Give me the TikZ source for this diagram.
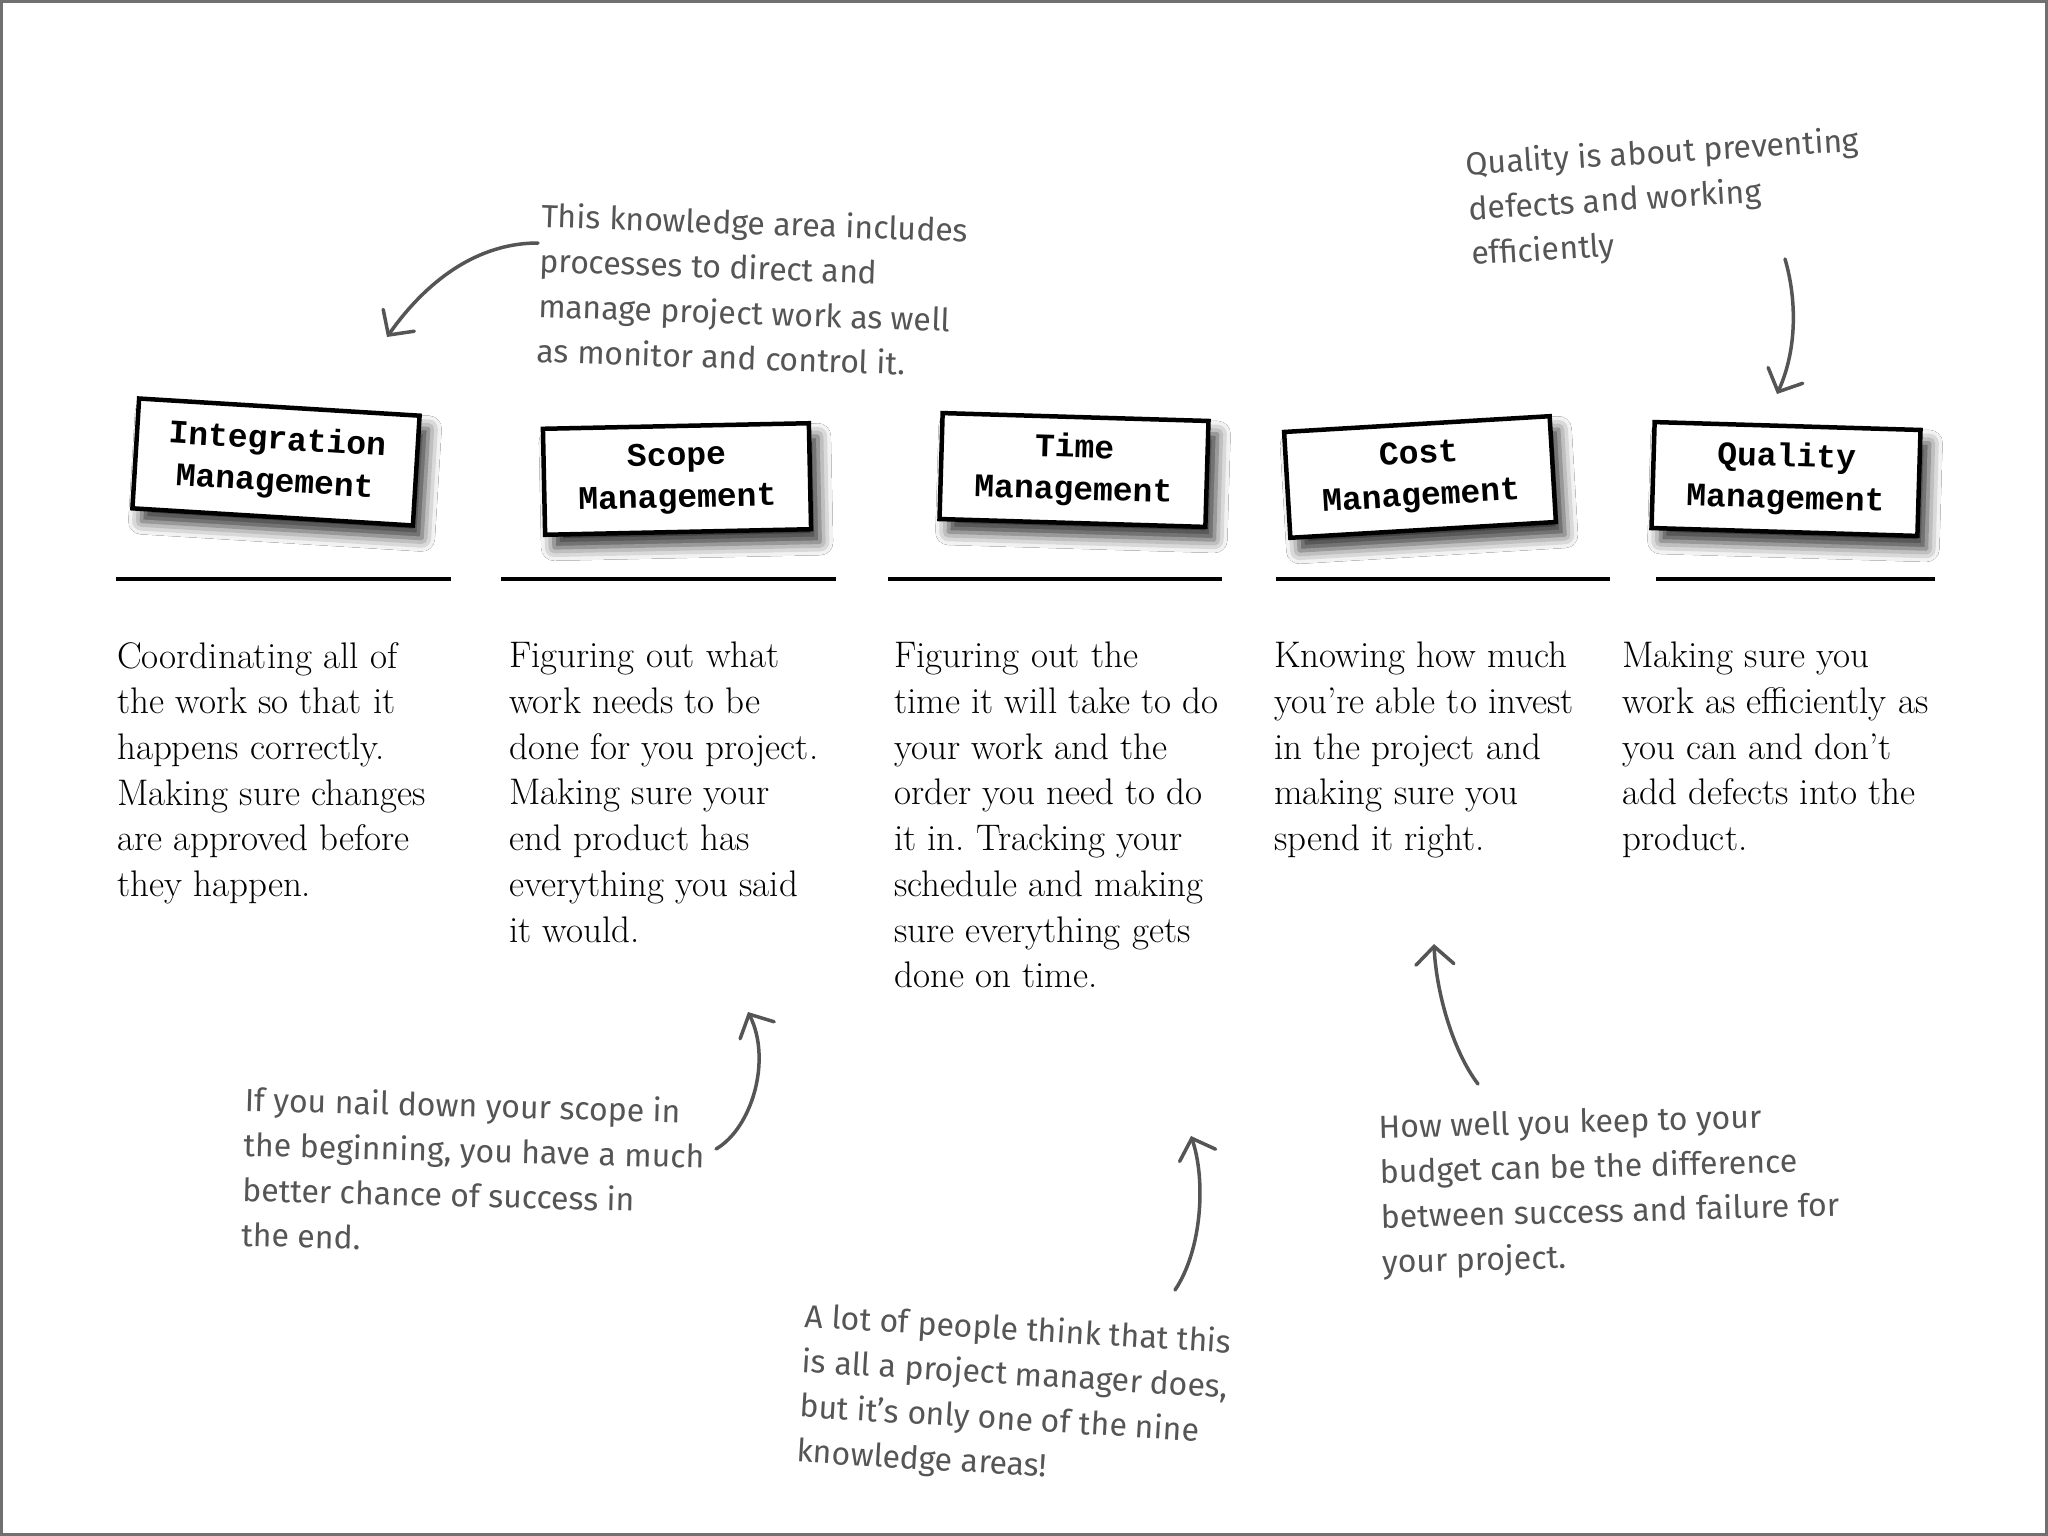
\documentclass[tikz,border=0pt]{standalone}
\usepackage{fontspec}
\newfontfamily\boxfont{Liberation Mono}
\newfontfamily\handfont{Fira Sans}
\usetikzlibrary{arrows.meta,shadows.blur}
\definecolor{handgray}{HTML}{555555}
\definecolor{framegray}{HTML}{707070}
\frenchspacing
\begin{document}
\begin{tikzpicture}[x=1pt,y=-1pt,
  kabox/.style={draw=black, line width=4.5pt, fill=white, minimum width=266pt, minimum height=106pt, inner sep=4pt, align=center,
    font=\boxfont\bfseries\fontsize{33}{42}\selectfont,
    blur shadow={shadow xshift=9pt, shadow yshift=-13pt, shadow blur radius=13pt, shadow opacity=80}},
  desc/.style={anchor=north west, inner sep=0pt, align=left, font=\fontsize{37}{45.7}\selectfont},
  note/.style={anchor=north west, inner sep=0pt, align=left, text=handgray, font=\handfont\fontsize{32}{45}\selectfont},
  sepline/.style={line width=4pt},
  pointer/.style={draw=handgray, line width=3.5pt, line cap=round, -{Straight Barb[length=18pt,width=38pt,line cap=round]}}]
\useasboundingbox (0,0) rectangle (2048,1536);
\draw[framegray, line width=3pt, fill=white] (1.5,1.5) rectangle (2046.5,1534.5);

% knowledge area boxes
\node[kabox, minimum width=281pt, minimum height=110pt, rotate=-3.5] (integ) at (276,462) {Integration\\Management};
\node[kabox, rotate=1.2] (scope) at (677,479) {Scope\\Management};
\node[kabox, rotate=-1.7] (time) at (1074,470) {Time\\Management};
\node[kabox, rotate=3.4] (cost) at (1420,477) {Cost\\Management};
\node[kabox, rotate=-1.7] (quality) at (1786,479) {Quality\\Management};

% separator lines
\draw[sepline] (116,579) -- (451,579);
\draw[sepline] (501,579) -- (836,579);
\draw[sepline] (888,579) -- (1222,579);
\draw[sepline] (1276,579) -- (1610,579);
\draw[sepline] (1656,579) -- (1935,579);

% descriptions
\node[desc] (d1) at (117,642) {Coordinating all of\\the work so that it\\happens correctly.\\Making sure changes\\are approved before\\they happen.};
\node[desc] (d2) at (509,642) {Figuring out what\\work needs to be\\done for you project.\\Making sure your\\end product has\\everything you said\\it would.};
\node[desc] (d3) at (894,642) {Figuring out the\\time it will take to do\\your work and the\\order you need to do\\it in. Tracking your\\schedule and making\\sure everything gets\\done on time.};
\node[desc] (d4) at (1274,642) {Knowing how much\\you’re able to invest\\in the project and\\making sure you\\spend it right.};
\node[desc] (d5) at (1622,642) {Making sure you\\work as efficiently as\\you can and don’t\\add defects into the\\product.};

% handwritten notes
\node[note, rotate=-2] (n1) at (542,202) {This knowledge area includes\\processes to direct and\\manage project work as well\\as monitor and control it.};
\node[note, rotate=3.5] (n2) at (1465,150) {Quality is about preventing\\defects and working\\efficiently};
\node[note, rotate=-1.5] (n3) at (245,1086) {If you nail down your scope in\\the beginning, you have a much\\better chance of success in\\the end.};
\node[note, rotate=-3.5] (n4) at (806,1302) {A lot of people think that this\\is all a project manager does,\\but it’s only one of the nine\\knowledge areas!};
\node[note, rotate=1.5] (n5) at (1378,1114) {How well you keep to your\\budget can be the difference\\between success and failure for\\your project.};

% arrow ends
\coordinate (a1s) at (538,243);  \coordinate (a1e) at (387,337);
\coordinate (a2s) at (1785,259); \coordinate (a2e) at (1777,394);
\coordinate (a3s) at (716,1149); \coordinate (a3e) at (748,1012);
\coordinate (a4s) at (1175,1290);\coordinate (a4e) at (1191,1136);
\coordinate (a5s) at (1478,1084);\coordinate (a5e) at (1434,944);

\draw[pointer] (a1s) .. controls (470,243) and (420,290) .. (a1e);
\draw[pointer] (a2s) .. controls (1797,300) and (1797,350) .. (a2e);
\draw[pointer] (a3s) .. controls (752,1128) and (772,1060) .. (a3e);
\draw[pointer] (a4s) .. controls (1202,1250) and (1206,1180) .. (a4e);
\draw[pointer] (a5s) .. controls (1452,1050) and (1436,990) .. (a5e);
\end{tikzpicture}
\end{document}
